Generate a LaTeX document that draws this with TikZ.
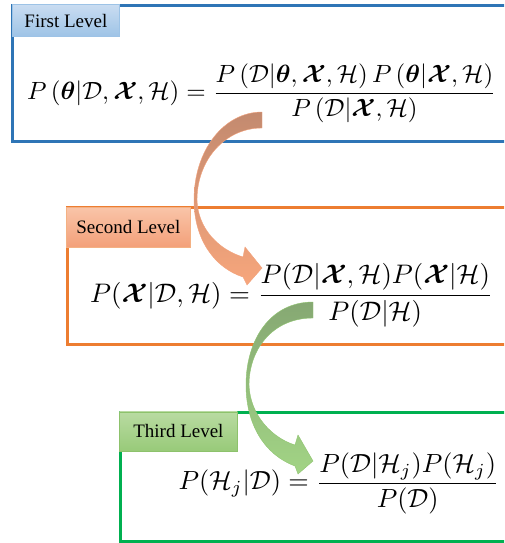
\documentclass[tikz,border=0pt]{standalone}
\usepackage{amsmath,bm,graphicx}
\usepackage[no-math]{fontspec}
\newfontfamily\labfont{Liberation Serif}
\definecolor{bluel}{HTML}{2E75B6}
\definecolor{orangel}{HTML}{ED7D31}
\definecolor{greenl}{HTML}{00B050}
\definecolor{labAtop}{HTML}{C9DCF1}
\definecolor{labAbot}{HTML}{9DC3E6}
\definecolor{labAdraw}{HTML}{9DC3E6}
\definecolor{labBtop}{HTML}{F9C4A8}
\definecolor{labBbot}{HTML}{F3A079}
\definecolor{labBdraw}{HTML}{F4B183}
\definecolor{labCtop}{HTML}{B9DBA2}
\definecolor{labCbot}{HTML}{98CA79}
\definecolor{labCdraw}{HTML}{8DC26C}
\definecolor{arrAtop}{HTML}{C38A6F}
\definecolor{arrAbot}{HTML}{F7A67C}
\definecolor{arrAdraw}{HTML}{F2A27C}
\definecolor{arrBtop}{HTML}{86A873}
\definecolor{arrBbot}{HTML}{A2D485}
\definecolor{arrBdraw}{HTML}{8FC46F}
\tikzset{
  levelbox/.style={line width=3pt},
  lab/.style={font=\labfont\fontsize{19}{22}\selectfont, inner sep=0pt, anchor=north west, line width=0.8pt},
  formula/.style={inner sep=0pt, anchor=west},
  blockarrow/.style={line width=0.4pt}
}
\begin{document}
\begin{tikzpicture}[x=1pt,y=-1pt]
\useasboundingbox (0,0) rectangle (504,543);
\clip (0,0) rectangle (504,543);
% level frames
\draw[levelbox, draw=bluel] (12.5,5.5) rectangle (530,141.5);
\draw[levelbox, draw=orangel] (67.5,207.5) rectangle (530,344);
\draw[levelbox, draw=greenl] (120,412) rectangle (530,541);
% labels
\node[lab, top color=labAtop, bottom color=labAbot, draw=labAdraw, minimum width=107pt, minimum height=32pt] (l1) at (12,4.5) {First Level};
\node[lab, top color=labBtop, bottom color=labBbot, draw=labBdraw, minimum width=124pt, minimum height=40pt] (l2) at (66,207) {Second Level};
\node[lab, top color=labCtop, bottom color=labCbot, draw=labCdraw, minimum width=118pt, minimum height=39pt] (l3) at (119,411.5) {Third Level};
% formulas
\node[formula] (f1) at (27,93.5) {\resizebox{469pt}{!}{$\displaystyle P\left(\bm{\theta}|\mathcal{D},\bm{\mathcal{X}},\mathcal{H}\right)=\frac{P\left(\mathcal{D}|\bm{\theta},\bm{\mathcal{X}},\mathcal{H}\right)P\left(\bm{\theta}|\bm{\mathcal{X}},\mathcal{H}\right)}{P\left(\mathcal{D}|\bm{\mathcal{X}},\mathcal{H}\right)}$}};
\node[formula] (f2) at (90,295.5) {\resizebox{403pt}{!}{$\displaystyle P(\bm{\mathcal{X}}|\mathcal{D},\mathcal{H})=\frac{P(\mathcal{D}|\bm{\mathcal{X}},\mathcal{H})P(\bm{\mathcal{X}}|\mathcal{H})}{P(\mathcal{D}|\mathcal{H})}$}};
\node[formula] (f3) at (178.5,483.5) {\resizebox{320.5pt}{!}{$\displaystyle P(\mathcal{H}_j|\mathcal{D})=\frac{P(\mathcal{D}|\mathcal{H}_j)P(\mathcal{H}_j)}{P(\mathcal{D})}$}};
% curved block arrows
\draw[blockarrow, draw=arrAdraw, top color=arrAtop, bottom color=arrAbot]
  (262,112) .. controls (224,112) and (194,150) .. (194,200)
  .. controls (194,240) and (215,268) .. (243,277)
  -- (247,285) -- (262,268) -- (245,247) -- (243,257)
  .. controls (220,250) and (198,230) .. (197,200)
  .. controls (197,160) and (225,128) .. (262,128) -- cycle;
\draw[blockarrow, draw=arrBdraw, top color=arrBtop, bottom color=arrBbot]
  (313,302) .. controls (270,302) and (246,340) .. (246,385)
  .. controls (246,425) and (265,455) .. (295,466)
  -- (298,474) -- (313,461) -- (298,435) -- (295,445)
  .. controls (272,438) and (250,415) .. (249,385)
  .. controls (249,350) and (272,318) .. (313,318) -- cycle;
\end{tikzpicture}
\end{document}
